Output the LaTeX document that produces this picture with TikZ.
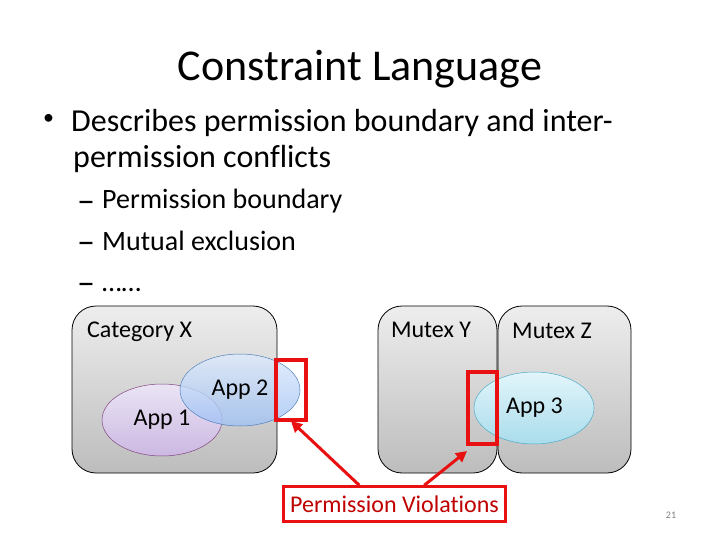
\documentclass[tikz,border=0pt]{standalone}
\usepackage{fontspec}
\setmainfont[Ligatures=NoCommon]{Carlito}
\usetikzlibrary{shapes.geometric,arrows.meta,calc}
\definecolor{vred}{HTML}{E81010}
\definecolor{vtext}{HTML}{C00000}
\tikzset{
  grpbox/.style={draw=black, line width=0.8pt, rounded corners=24pt, top color=white!93!black, bottom color=white!74!black, inner sep=0pt},
  app/.style={ellipse, inner sep=0pt, minimum width=120pt, minimum height=72pt},
  viol/.style={draw=vred, line width=4pt, inner sep=0pt},
  lbl/.style={font=\fontsize{24}{28}\selectfont, inner sep=0pt},
  sub/.style={anchor=base west, font=\fontsize{28}{32}\selectfont, inner sep=0pt},
  subdash/.style={anchor=base west, font=\fontsize{36}{40}\selectfont, inner sep=0pt},
  bul/.style={anchor=base west, font=\fontsize{32}{38}\selectfont, inner sep=0pt},
  varrow/.style={draw=vred, line width=3pt, -{Triangle[length=11pt,width=11pt]}}
}
\begin{document}
\begin{tikzpicture}[x=1pt,y=-1pt]
\useasboundingbox[fill=white] (0,0) rectangle (720,540);
% title
\node[anchor=base, font=\fontsize{44}{52}\selectfont, inner sep=0pt] (title) at (360,81) {Constraint Language};
% bullets
\node[anchor=center, font=\fontsize{22}{26}\selectfont, inner sep=0pt] (b1) at (48.5,119) {\textbullet};
\node[bul] (l1) at (71,132) {Describes permission boundary and inter-};
\node[bul] (l2) at (73,168) {permission conflicts};
\node[subdash] (d1) at (77,212) {\textendash};
\node[sub] (s1) at (102,209) {Permission boundary};
\node[subdash] (d2) at (77,253) {\textendash};
\node[sub] (s2) at (102,250) {Mutual exclusion};
\node[subdash] (d3) at (77,294) {\textendash};
\node[sub] (s3) at (102,291) {\ldots\ldots};
% group boxes
\node[grpbox, minimum width=205pt, minimum height=167pt] (catx) at (174.5,389.5) {};
\node[grpbox, minimum width=119pt, minimum height=167pt] (muty) at (437.5,389.5) {};
\node[grpbox, minimum width=133pt, minimum height=167pt] (mutz) at (564.5,389.5) {};
\node[lbl, anchor=west] (catxl) at (87,332) {Category X};
\node[lbl] (mutyl) at (431,330) {Mutex Y};
\node[lbl] (mutzl) at (552,331) {Mutex Z};
% apps
\node[app, draw=violet!45!gray, line width=0.5pt, top color={rgb,255:red,234;green,228;blue,244}, bottom color={rgb,255:red,204;green,184;blue,226}] (app1) at (162,420) {};
\node[app, draw={rgb,255:red,79;green,129;blue,189}, line width=0.5pt, fill opacity=0.8, top color={rgb,255:red,222;green,234;blue,252}, bottom color={rgb,255:red,160;green,194;blue,244}] (app2) at (240,390) {};
\node[app, draw={rgb,255:red,75;green,172;blue,198}, line width=0.5pt, top color={rgb,255:red,226;green,245;blue,250}, bottom color={rgb,255:red,170;green,220;blue,236}] (app3) at (534,408) {};
\node[lbl] (app1l) at (162,420) {App 1};
\node[lbl] (app2l) at (240,390) {App 2};
\node[lbl] (app3l) at (534.5,408) {App 3};
% violations
\node[viol, minimum width=30pt, minimum height=60pt] (v1) at (291,390) {};
\node[viol, minimum width=29pt, minimum height=72pt] (v2) at (482.5,408) {};
\node[draw=vred, line width=2.5pt, fill=white, minimum width=222pt, minimum height=35pt, inner sep=0pt, text=vtext, font=\fontsize{24}{28}\selectfont] (pv) at (394.5,504) {Permission Violations};
\draw[varrow] ($(pv.north west)+(77,0)$) -- ($(v1.south)+(0,-1)$);
\draw[varrow] ($(pv.north west)+(142,0)$) -- ($(v2.south west)+(1,5)$);
% page number
\node[font=\fontsize{10}{12}\selectfont, text=gray, inner sep=0pt] (pg) at (671,515) {21};
\end{tikzpicture}
\end{document}
